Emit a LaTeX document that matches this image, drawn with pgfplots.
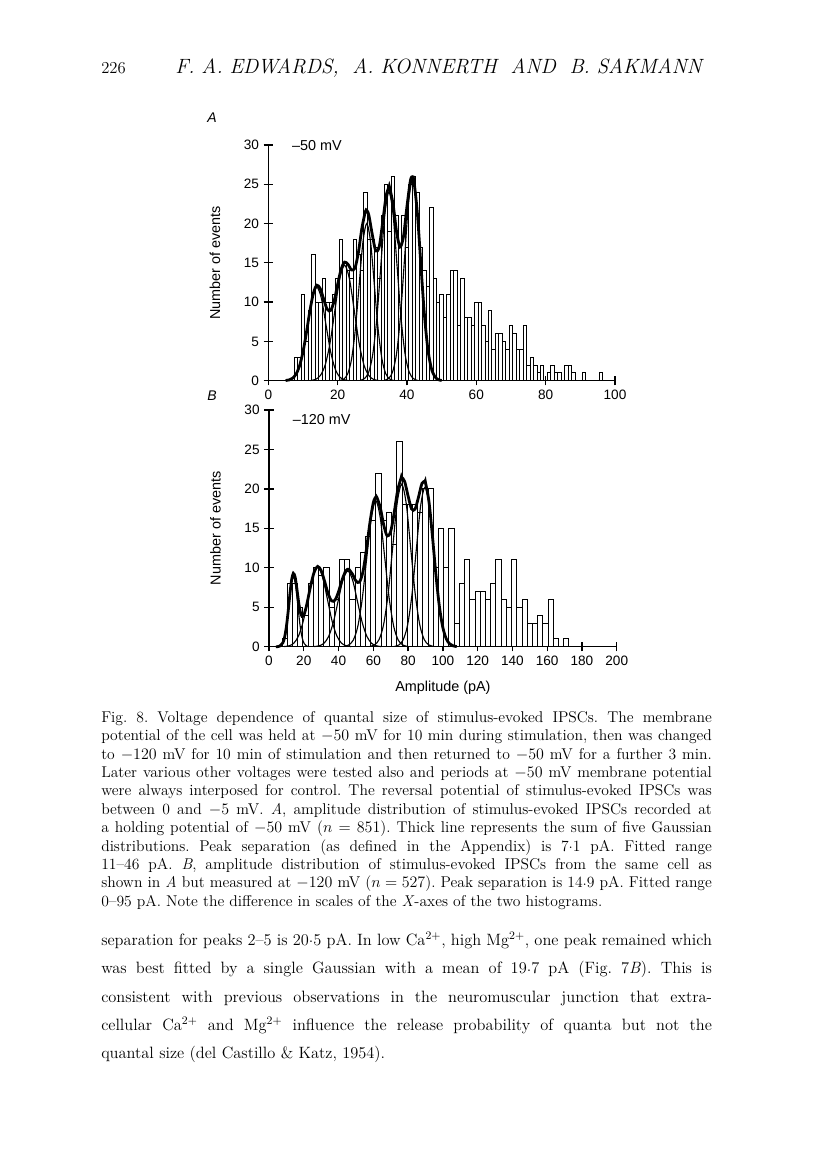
\documentclass[border=0pt]{standalone}
\usepackage{pgfplots}
\pgfplotsset{compat=1.18}
\usepackage{fontspec}
\newfontfamily\arial{Liberation Sans}
\newcommand{\tl}[1]{\makebox[458pt][s]{#1}}
\newcommand{\dd}{\raisebox{0.42ex}{.}}
\frenchspacing
\begin{document}
\begin{tikzpicture}
\begin{scope}[x=0.75pt,y=0.75pt]
\useasboundingbox (0,0) rectangle (816,1173);
% header
\node[anchor=base west,inner sep=0pt,font=\fontsize{12.5}{14}\selectfont] at (101,1173-74) {226};
\node[anchor=base west,inner sep=0pt,font=\fontsize{15.5}{17}\selectfont\itshape] at (175,1173-74) {\makebox[395pt][s]{F. A. EDWARDS, \ A. KONNERTH \ AND \ B. SAKMANN}};
% panel letters
\node[font=\arial\itshape\fontsize{10.5}{12}\selectfont] at (212,1173-118) {A};
\node[font=\arial\itshape\fontsize{10.5}{12}\selectfont] at (212,1173-396) {B};
% caption
\node[anchor=north west, inner sep=0pt, align=left, font=\fontsize{11.7}{13.8}\selectfont] at (101,1173-711) {%
\tl{Fig.\ 8. Voltage dependence of quantal size of stimulus-evoked IPSCs. The membrane}\\
\tl{potential of the cell was held at $-50$ mV for 10 min during stimulation, then was changed}\\
\tl{to $-120$ mV for 10 min of stimulation and then returned to $-50$ mV for a further 3 min.}\\
\tl{Later various other voltages were tested also and periods at $-50$ mV membrane potential}\\
\tl{were always interposed for control. The reversal potential of stimulus-evoked IPSCs was}\\
\tl{between 0 and $-5$ mV. \textit{A}, amplitude distribution of stimulus-evoked IPSCs recorded at}\\
\tl{a holding potential of $-50$ mV ($n=851$). Thick line represents the sum of five Gaussian}\\
\tl{distributions. Peak separation (as defined in the Appendix) is 7\dd1 pA. Fitted range}\\
\tl{11--46 pA. \textit{B}, amplitude distribution of stimulus-evoked IPSCs from the same cell as}\\
\tl{shown in \textit{A} but measured at $-120$ mV ($n=527$). Peak separation is 14\dd9 pA. Fitted range}\\
0--95 pA. Note the difference in scales of the \textit{X}-axes of the two histograms.};
% body text
\node[anchor=north west, inner sep=0pt, align=left, font=\fontsize{12.3}{21.2}\selectfont] at (101,1173-932) {%
\tl{separation for peaks 2--5 is 20\dd5 pA. In low Ca\textsuperscript{2+}, high Mg\textsuperscript{2+}, one peak remained which}\\
\tl{was best fitted by a single Gaussian with a mean of 19\dd7 pA (Fig.\ 7\textit{B}). This is}\\
\tl{consistent with previous observations in the neuromuscular junction that extra-}\\
\tl{cellular Ca\textsuperscript{2+} and Mg\textsuperscript{2+} influence the release probability of quanta but not the}\\
quantal size (del Castillo \& Katz, 1954).};
\end{scope}

\pgfplotsset{hist/.style={
  scale only axis, clip=false,
  axis lines=left, axis line style={-, line width=1.1pt},
  ymin=0, ymax=30, ytick={0,5,...,30},
  tick align=center, major tick length=7pt,
  tick style={black, line width=1pt},
  /pgf/number format/assume math mode=true,
  tick label style={font=\arial\fontsize{10.2}{12}\selectfont},
  label style={font=\arial\fontsize{10.8}{12}\selectfont},
  y label style={at={(axis description cs:-0.154,0.5)}, anchor=center},
  gauss/.style={smooth, line width=0.85pt},
  gsum/.style={smooth, line width=2.1pt},
  bars/.style={ybar, bar shift=0pt, fill=white, draw=black, line width=0.7pt},
}}

% ---------- panel A ----------
\begin{axis}[hist, at={(201.225pt,594.225pt)}, anchor=south west,
  width=260pt, height=176.8pt, xmin=0, xmax=100, xtick={0,20,...,100},
  ylabel={Number of events}]
\addplot[bars, bar width=1] table {
x y
8 3
9 3
10 11
11 5
12 9
13 16
14 10
15 10
16 13
17 10
18 10
19 11
20 13
21 18
22 15
23 14
24 13
25 18
26 16
27 14
28 24
29 18
30 18
31 17
32 13
33 21
34 25
35 19
36 26
37 21
38 17
39 21
40 17
41 25
42 26
43 24
44 17
45 14
46 12
47 22
48 13
49 10
50 11
51 8
52 11
53 14
54 14
55 7
56 13
57 8
58 8
59 7
60 10
61 10
62 7
63 5
64 9
65 4
66 6
67 6
68 5
69 4
70 7
71 6
72 4
73 4
74 7
75 2
76 3
77 2
78 1
79 2
81 1
82 2
83 1
84 1
86 2
87 2
88 1
91 1
96 1
};
% component Gaussians
\addplot[gauss] coordinates {(4.9,0.03)(6.2,0.13)(7.5,0.52)(8.8,1.61)(10.1,3.86)(11.4,7.22)(12.7,10.50)(14,11.9)(15.3,10.50)(16.6,7.22)(17.9,3.86)(19.2,1.61)(20.5,0.52)(21.8,0.13)(23.1,0.03)};
\addplot[gauss] coordinates {(12.2,0.03)(13.6,0.16)(15,0.65)(16.4,1.99)(17.8,4.77)(19.2,8.92)(20.6,12.97)(22,14.7)(23.4,12.97)(24.8,8.92)(26.2,4.77)(27.6,1.99)(29,0.65)(30.4,0.16)(31.8,0.03)};
\addplot[gauss] coordinates {(20.7,0.04)(21.8,0.22)(22.9,0.88)(24,2.71)(25.1,6.49)(26.2,12.13)(27.3,17.65)(28.4,20)(29.5,17.65)(30.6,12.13)(31.7,6.49)(32.8,2.71)(33.9,0.88)(35,0.22)(36.1,0.04)};
\addplot[gauss] coordinates {(26.58,0.05)(27.75,0.27)(28.93,1.05)(30.1,3.25)(31.28,7.79)(32.45,14.56)(33.63,21.18)(34.8,24)(35.98,21.18)(37.15,14.56)(38.33,7.79)(39.5,3.25)(40.68,1.05)(41.85,0.27)(43.03,0.05)};
\addplot[gauss] coordinates {(33.55,0.06)(34.7,0.28)(35.85,1.12)(37,3.46)(38.15,8.31)(39.3,15.53)(40.45,22.59)(41.6,25.6)(42.75,22.59)(43.9,15.53)(45.05,8.31)(46.2,3.46)(47.35,1.12)(48.5,0.28)(49.65,0.06)};
% sum
\addplot[gsum] coordinates {(5,0.03)(6,0.10)(7,0.32)(8,0.83)(9,1.87)(10,3.65)(11,6.12)(12,8.88)(13,11.13)(14,12.15)(15,11.70)(16,10.33)(17,9.09)(18,8.95)(19,10.15)(20,12.23)(21,14.18)(22,15.09)(23,14.80)(24,14.10)(25,14.34)(26,16.35)(27,19.41)(28,21.51)(28.4,21.67)(29,21.06)(30,18.58)(31,16.52)(32,17.07)(33,20.17)(34,23.54)(34.8,24.61)(35,24.55)(36,22.44)(37,18.96)(38,17.02)(39,18.37)(40,22.18)(41,25.48)(41.6,25.96)(42,25.44)(43,21.32)(44,14.85)(45,8.58)(46,4.11)(47,1.63)(48,0.53)(49,0.14)(50,0.03)};
\node[anchor=west, font=\arial\fontsize{10.8}{12}\selectfont] at (axis cs:5.5,29.9) {–50 mV};
\end{axis}

% ---------- panel B ----------
\begin{axis}[hist, at={(201.75pt,394.725pt)}, anchor=south west,
  width=260.8pt, height=177.5pt, xmin=0, xmax=200, xtick={0,20,...,200},
  ylabel={Number of events}, xlabel={Amplitude (pA)},
  x label style={at={(axis description cs:0.5,0)}, yshift=-31pt, anchor=center}]
\addplot[bars, bar width=3] table {
x y
9 1
12 8
15 8
18 5
21 4
24 8
27 10
30 9
33 10
36 5
39 6
42 11
45 11
48 6
51 10
54 12
57 14
60 16
63 22
66 16
69 17
72 13
75 26
78 18
81 18
84 18
87 17
90 20
93 20
96 10
99 15
102 10
105 15
108 3
111 8
114 11
117 6
120 7
123 7
126 6
129 8
132 11
135 6
138 5
141 11
144 5
147 6
150 3
153 3
156 4
159 3
162 6
165 1
171 1
};
\addplot[gauss] coordinates {(5.25,0.02)(6.5,0.10)(7.75,0.39)(9,1.20)(10.25,2.89)(11.5,5.40)(12.75,7.85)(14,8.9)(15.25,7.85)(16.5,5.40)(17.75,2.89)(19,1.20)(20.25,0.39)(21.5,0.10)(22.75,0.02)};
\addplot[gauss] coordinates {(8.75,0.02)(11.5,0.11)(14.25,0.44)(17,1.37)(19.75,3.28)(22.5,6.13)(25.25,8.91)(28,10.1)(30.75,8.91)(33.5,6.13)(36.25,3.28)(39,1.37)(41.75,0.44)(44.5,0.11)(47.25,0.02)};
\addplot[gauss] coordinates {(26.05,0.02)(28.8,0.11)(31.55,0.42)(34.3,1.30)(37.05,3.12)(39.8,5.82)(42.55,8.47)(45.3,9.6)(48.05,8.47)(50.8,5.82)(53.55,3.12)(56.3,1.30)(59.05,0.42)(61.8,0.11)(64.55,0.02)};
\addplot[gauss] coordinates {(43.2,0.04)(45.8,0.21)(48.4,0.81)(51,2.50)(53.6,6.01)(56.2,11.22)(58.8,16.33)(61.4,18.5)(64,16.33)(66.6,11.22)(69.2,6.01)(71.8,2.50)(74.4,0.81)(77,0.21)(79.6,0.04)};
\addplot[gauss] coordinates {(58.1,0.05)(60.7,0.23)(63.3,0.90)(65.9,2.79)(68.5,6.69)(71.1,12.49)(73.7,18.18)(76.3,20.6)(78.9,18.18)(81.5,12.49)(84.1,6.69)(86.7,2.79)(89.3,0.90)(91.9,0.23)(94.5,0.05)};
\addplot[gauss] coordinates {(72.2,0.04)(74.7,0.22)(77.2,0.89)(79.7,2.73)(82.2,6.56)(84.7,12.25)(87.2,17.83)(89.7,20.2)(92.2,17.83)(94.7,12.25)(97.2,6.56)(99.7,2.73)(102.2,0.89)(104.7,0.22)(107.2,0.04)};
\addplot[gsum] coordinates {(4,0.0)(6,0.06)(8,0.51)(9,1.23)(10,2.52)(11,4.42)(12,6.61)(13,8.46)(14,9.30)(15,8.84)(16,7.40)(17,5.70)(18,4.40)(19,3.85)(20,4.01)(21,4.67)(22,5.62)(24,7.76)(26,9.47)(28,10.17)(30,9.65)(32,8.27)(34,6.73)(36,5.81)(38,5.91)(40,6.97)(42,8.44)(44,9.56)(45.3,9.82)(46,9.80)(48,9.19)(50,8.33)(52,8.18)(54,9.47)(56,12.25)(58,15.65)(60,18.26)(61.4,18.97)(62,18.95)(64,17.62)(66,15.41)(68,14.03)(70,14.61)(72,16.99)(74,19.81)(76,21.40)(76.3,21.47)(78,20.95)(80,19.10)(82,17.47)(84,17.43)(86,18.98)(88,20.71)(89.7,20.94)(90,20.80)(92,18.39)(94,14.02)(96,9.14)(98,5.09)(100,2.42)(102,0.98)(104,0.34)(106,0.10)(108,0.02)};
\node[anchor=west, font=\arial\fontsize{10.8}{12}\selectfont] at (axis cs:11,28.8) {–120 mV};
\end{axis}
\end{tikzpicture}
\end{document}
